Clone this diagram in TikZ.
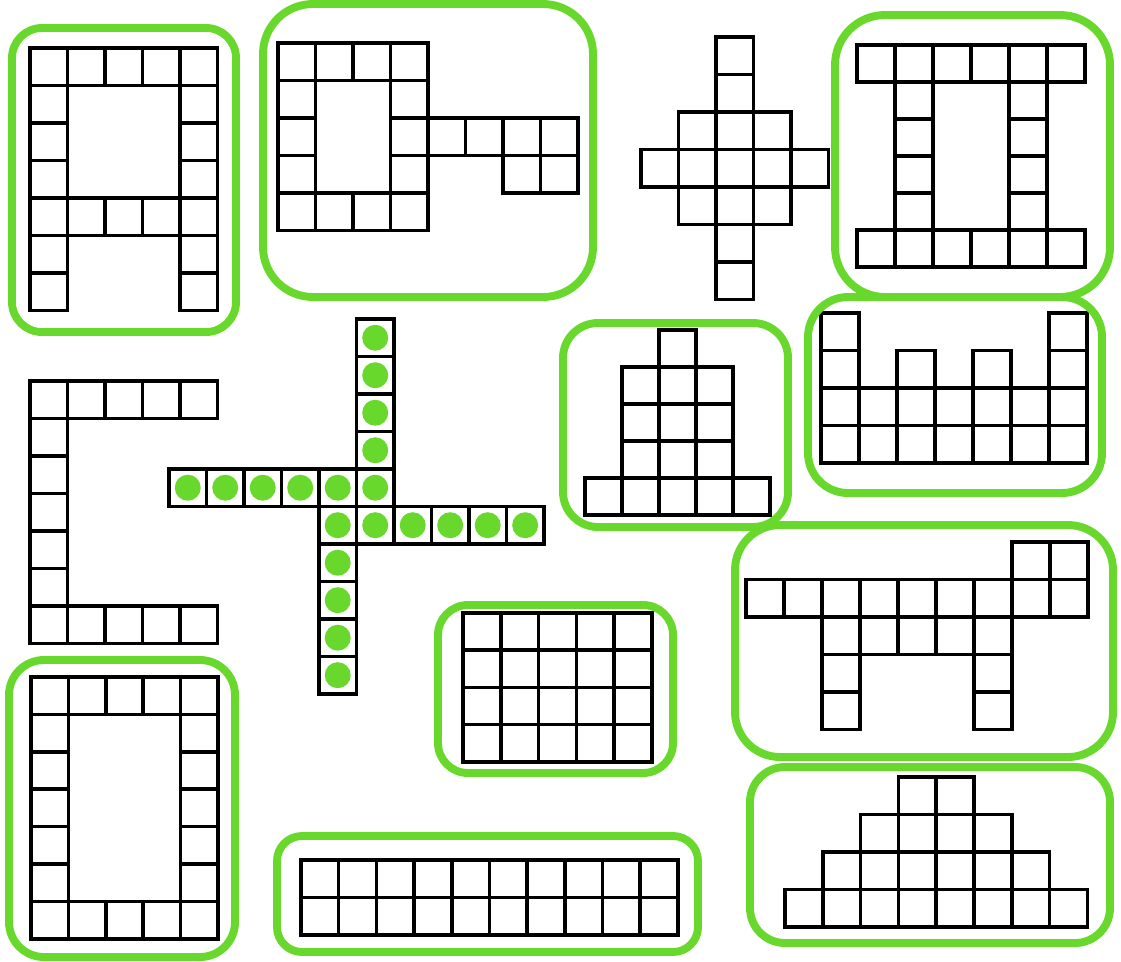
\documentclass[tikz,border=0pt]{standalone}
\definecolor{ringgreen}{RGB}{104,216,44}
\begin{document}
\begin{tikzpicture}[x=0.02cm, y=-0.02cm,
 cell/.style={draw=black, line width=2pt},
 ring/.style={draw=ringgreen, line width=4.5pt, rounded corners=#1},
 dot/.style={fill=ringgreen}]
\useasboundingbox (0,0) rectangle (1121,961);
\begin{scope}[shift={(30,48)}, x=0.75cm, y=-0.75cm]
 \foreach \r in {0,...,6} {\draw[cell] (0,\r) rectangle +(1,1); \draw[cell] (4,\r) rectangle +(1,1);}
 \foreach \c in {1,2,3} {\draw[cell] (\c,0) rectangle +(1,1); \draw[cell] (\c,4) rectangle +(1,1);}
\end{scope}
\draw[ring=0.6cm] (12,28) rectangle (236,332);
\begin{scope}[shift={(278,43)}, x=0.75cm, y=-0.75cm]
 \foreach \c in {0,...,3} {\draw[cell] (\c,0) rectangle +(1,1); \draw[cell] (\c,4) rectangle +(1,1);}
 \foreach \r in {1,2,3} {\draw[cell] (0,\r) rectangle +(1,1); \draw[cell] (3,\r) rectangle +(1,1);}
 \foreach \c/\r in {4/2,5/2,6/2,7/2,6/3,7/3} \draw[cell] (\c,\r) rectangle +(1,1);
\end{scope}
\draw[ring=1cm] (263,4) rectangle (593,297);
\begin{scope}[shift={(641,37)}, x=0.75cm, y=-0.75cm]
 \foreach \c/\r in {2/0,2/1,1/2,2/2,3/2,0/3,1/3,2/3,3/3,4/3,1/4,2/4,3/4,2/5,2/6} \draw[cell] (\c,\r) rectangle +(1,1);
\end{scope}
\begin{scope}[shift={(857,45)}, x=0.76cm, y=-0.74cm]
 \foreach \c in {0,...,5} {\draw[cell] (\c,0) rectangle +(1,1); \draw[cell] (\c,5) rectangle +(1,1);}
 \foreach \r in {1,...,4} {\draw[cell] (1,\r) rectangle +(1,1); \draw[cell] (4,\r) rectangle +(1,1);}
\end{scope}
\draw[ring=1cm] (835,15) rectangle (1110,297);
\begin{scope}[shift={(30,381)}, x=0.75cm, y=-0.75cm]
 \foreach \c in {0,...,4} {\draw[cell] (\c,0) rectangle +(1,1); \draw[cell] (\c,6) rectangle +(1,1);}
 \foreach \r in {1,...,5} \draw[cell] (0,\r) rectangle +(1,1);
\end{scope}
\begin{scope}[shift={(169,319)}, x=0.75cm, y=-0.75cm]
 \foreach \c/\r in {5/0,5/1,5/2,5/3,0/4,1/4,2/4,3/4,4/4,5/4,4/5,5/5,6/5,7/5,8/5,9/5,4/6,4/7,4/8,4/9} {
  \draw[cell] (\c,\r) rectangle +(1,1);
  \fill[dot] (\c+0.5,\r+0.5) circle (0.26cm);
 }
\end{scope}
\begin{scope}[shift={(585,330)}, x=0.74cm, y=-0.74cm]
 \draw[cell] (2,0) rectangle +(1,1);
 \foreach \r in {1,2,3} \foreach \c in {1,2,3} \draw[cell] (\c,\r) rectangle +(1,1);
 \foreach \c in {0,...,4} \draw[cell] (\c,4) rectangle +(1,1);
\end{scope}
\draw[ring=0.7cm] (563,323) rectangle (788,527);
\begin{scope}[shift={(821,313)}, x=0.76cm, y=-0.75cm]
 \foreach \c/\r in {0/0,6/0,0/1,2/1,4/1,6/1} \draw[cell] (\c,\r) rectangle +(1,1);
 \foreach \r in {2,3} \foreach \c in {0,...,6} \draw[cell] (\c,\r) rectangle +(1,1);
\end{scope}
\draw[ring=0.8cm] (808,297) rectangle (1102,493);
\begin{scope}[shift={(746,542)}, x=0.76cm, y=-0.75cm]
 \foreach \c/\r in {7/0,8/0,2/3,6/3,2/4,6/4} \draw[cell] (\c,\r) rectangle +(1,1);
 \foreach \c in {0,...,8} \draw[cell] (\c,1) rectangle +(1,1);
 \foreach \c in {2,...,6} \draw[cell] (\c,2) rectangle +(1,1);
\end{scope}
\draw[ring=0.9cm] (735,525) rectangle (1113,757);
\begin{scope}[shift={(463,613)}, x=0.756cm, y=-0.744cm]
 \foreach \r in {0,...,3} \foreach \c in {0,...,4} \draw[cell] (\c,\r) rectangle +(1,1);
\end{scope}
\draw[ring=0.6cm] (438,605) rectangle (673,773);
\begin{scope}[shift={(31,677)}, x=0.748cm, y=-0.748cm]
 \foreach \c in {0,...,4} {\draw[cell] (\c,0) rectangle +(1,1); \draw[cell] (\c,6) rectangle +(1,1);}
 \foreach \r in {1,...,5} {\draw[cell] (0,\r) rectangle +(1,1); \draw[cell] (4,\r) rectangle +(1,1);}
\end{scope}
\draw[ring=0.7cm] (9,660) rectangle (235,957);
\begin{scope}[shift={(301,860)}, x=0.754cm, y=-0.75cm]
 \foreach \r in {0,1} \foreach \c in {0,...,9} \draw[cell] (\c,\r) rectangle +(1,1);
\end{scope}
\draw[ring=0.5cm] (277,836) rectangle (698,952);
\begin{scope}[shift={(785,777)}, x=0.756cm, y=-0.75cm]
 \foreach \c in {3,4} \draw[cell] (\c,0) rectangle +(1,1);
 \foreach \c in {2,...,5} \draw[cell] (\c,1) rectangle +(1,1);
 \foreach \c in {1,...,6} \draw[cell] (\c,2) rectangle +(1,1);
 \foreach \c in {0,...,7} \draw[cell] (\c,3) rectangle +(1,1);
\end{scope}
\draw[ring=0.7cm] (750,767) rectangle (1110,943);
\end{tikzpicture}
\end{document}
